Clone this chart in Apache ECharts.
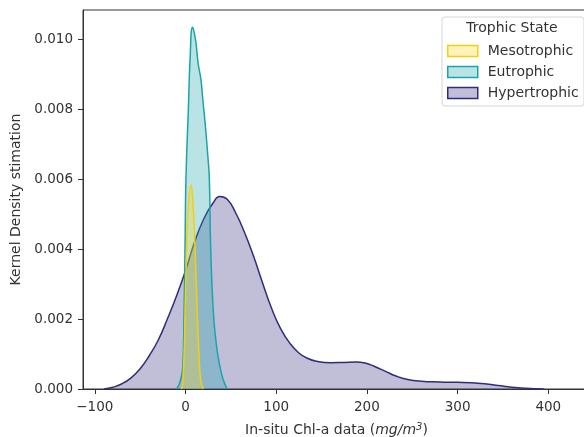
<!DOCTYPE html>
<html>
<head>
<meta charset="utf-8">
<script src="https://cdn.jsdelivr.net/npm/echarts@6/dist/echarts.min.js"></script>
<style>html,body{margin:0;padding:0;background:#fff}#c{width:584px;height:437px}</style>
</head>
<body>
<div id="c"></div>
<script>
var seriesNames = ['Mesotrophic', 'Eutrophic', 'Hypertrophic'];
var xTicks = [-100, 0, 100, 200, 300, 400];
var yTicks = [0, 0.002, 0.004, 0.006, 0.008, 0.010];

var mesoX = [-4.5, -3, -2.4, -1.2, -0.5, 1.3, 3.1, 6, 8.5, 10.5, 13, 14.5, 16, 17.5, 19.6];
var mesoY = [0, 0.0002, 0.00045, 0.0013, 0.00216, 0.00407, 0.0052, 0.00583, 0.0052, 0.00407, 0.00216, 0.0012, 0.00045, 0.00015, 0];

var eutroX = [-10, -6, -3, -1.6, -0.5, 0.5, 3.3, 5, 7.7, 9.5, 11.6, 14, 17, 19, 22, 24.5, 26.3, 27.7, 30.7, 34.4, 38, 41.7, 46];
var eutroY = [0, 0.0002, 0.00064, 0.0022, 0.0041, 0.006, 0.0081, 0.0094, 0.01034, 0.0102, 0.00988, 0.0093, 0.00885, 0.0083, 0.0075, 0.0067, 0.006, 0.0041, 0.0022, 0.0012, 0.00064, 0.00026, 0];

var hyperX = [-90, -80, -70, -60, -50, -40, -30, -20, -10, 0, 10, 20, 30, 38, 46, 55, 65, 75, 85, 95, 105, 115, 125, 135, 145, 160, 175, 188, 198, 208, 220, 232, 245, 260, 280, 300, 315, 330, 345, 360, 375, 395];
var hyperY = [0, 0.00005, 0.00015, 0.00032, 0.00058, 0.00095, 0.0014, 0.002, 0.00265, 0.00338, 0.0042, 0.00485, 0.0053, 0.0055, 0.00542, 0.00505, 0.00448, 0.0038, 0.00303, 0.0023, 0.00172, 0.00131, 0.00103, 0.00087, 0.00079, 0.00075, 0.00076, 0.00077, 0.00074, 0.00065, 0.00051, 0.00037, 0.00027, 0.00022, 0.0002, 0.00019, 0.00018, 0.00015, 0.0001, 0.00005, 0.00002, 0];

function pairs(xs, ys) { return xs.map(function (x, i) { return [x, ys[i]]; }); }

var lineColors = ['#f5cf0c', '#1ba3ad', '#2f2c7c'];
var fillColors = ['rgba(253,215,40,0.3)', 'rgba(27,163,173,0.3)', 'rgba(47,44,124,0.3)'];
var dataSets = [pairs(mesoX, mesoY), pairs(eutroX, eutroY), pairs(hyperX, hyperY)];

var font = 'DejaVu Sans';
var chart = echarts.init(document.getElementById('c'), null, {renderer: 'canvas'});

var series = [];
var order = [2, 1, 0];
order.forEach(function (i) {
  series.push({
    name: seriesNames[i],
    type: 'line',
    data: dataSets[i],
    smooth: 0.5,
    showSymbol: false,
    symbol: 'none',
    lineStyle: {color: lineColors[i], width: 1.5},
    itemStyle: {color: fillColors[i], borderColor: lineColors[i]},
    areaStyle: {color: fillColors[i], opacity: 1, origin: 'start'},
    z: 2 + (2 - i)
  });
});

chart.setOption({
  animation: false,
  backgroundColor: '#fff',
  grid: {left: 83, top: 10, right: -6, bottom: 48, containLabel: false, outerBoundsMode: 'none',
    show: true, borderColor: '#333', borderWidth: 1, backgroundColor: 'transparent'},
  xAxis: {
    type: 'value', min: -113, max: 446,
    name: '{n|In-situ Chl-a data (}{i|mg/m}{s|3}{n|)}',
    nameLocation: 'middle', nameGap: 33,
    nameTextStyle: {
      rich: {
        n: {fontFamily: font, fontSize: 14, color: '#333'},
        i: {fontFamily: font, fontSize: 14, color: '#333', fontStyle: 'italic'},
        s: {fontFamily: font, fontSize: 10, color: '#333', fontStyle: 'italic', verticalAlign: 'top', padding: [0, 0, 7, 0]}
      }
    },
    axisLine: {show: true, onZero: false, lineStyle: {color: '#333', width: 1}},
    axisTick: {show: true, customValues: xTicks, length: 5, lineStyle: {color: '#333'}},
    axisLabel: {customValues: xTicks, fontFamily: font, fontSize: 13.5, color: '#333', margin: 11,
      formatter: function (v) { return String(v).replace('-', '\u2212'); }},
    splitLine: {show: false}
  },
  yAxis: {
    type: 'value', min: 0, max: 0.01083,
    name: 'Kernel Density stimation',
    nameLocation: 'middle', nameGap: 59,
    nameTextStyle: {fontFamily: font, fontSize: 14, color: '#333'},
    axisLine: {show: true, onZero: false, lineStyle: {color: '#333', width: 1}},
    axisTick: {show: true, customValues: yTicks, length: 5, lineStyle: {color: '#333'}},
    axisLabel: {customValues: yTicks, fontFamily: font, fontSize: 13.5, color: '#333', margin: 10,
      formatter: function (v) { return v.toFixed(3); }},
    splitLine: {show: false}
  },
  legend: {
    orient: 'vertical',
    left: 447, top: 44,
    padding: 0,
    itemWidth: 30, itemHeight: 11, itemGap: 7,
    z: 10,
    textStyle: {fontFamily: font, fontSize: 14, color: '#333', padding: [0, 0, 0, 5]},
    data: seriesNames.map(function (n, i) {
      return {name: n, icon: 'rect', itemStyle: {color: fillColors[i], borderColor: lineColors[i], borderWidth: 1.5}};
    })
  },
  graphic: [
    {type: 'rect', z: 8, shape: {x: 442, y: 17, width: 142, height: 89, r: 3},
      style: {fill: 'rgba(255,255,255,0.8)', stroke: '#d5d5d5', lineWidth: 1}},
    {type: 'text', z: 10, x: 512, y: 28,
      style: {text: 'Trophic State', font: '14px "DejaVu Sans"', fill: '#333', textAlign: 'center', textVerticalAlign: 'middle'}}
  ],
  series: series
});
</script>
</body>
</html>
